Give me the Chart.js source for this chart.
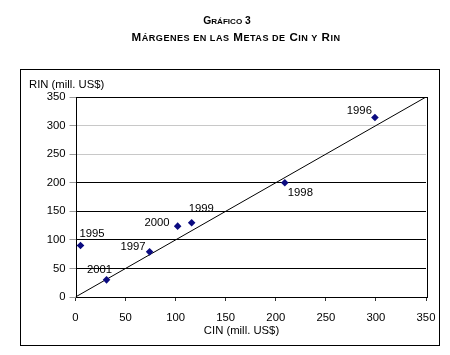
<!DOCTYPE html>
<html>
<head>
<meta charset="utf-8">
<script src="https://cdn.jsdelivr.net/npm/chart.js@4"></script>
<style>
  html, body { margin: 0; padding: 0; background: #fff; }
  #wrap { position: relative; width: 450px; height: 355px; }
  canvas { position: absolute; left: 0; top: 0; }
  .ttl { position: absolute; width: 450px; text-align: center;
         font-family: "Liberation Sans", Arial, sans-serif; font-weight: bold;
         color: #000; line-height: 14px; white-space: nowrap; }
  .l1 { font-size: 10.3px; left: 2px; top: 14px; }
  .l1 .s { font-size: 8.1px; text-transform: uppercase; }
  .l2 { font-size: 11.6px; left: 11px; top: 30px; letter-spacing: 0.5px; }
  .l2 .s { font-size: 9.1px; text-transform: uppercase; }
</style>
</head>
<body>
<div id="wrap">
  <canvas id="c" width="450" height="355"></canvas>
  <div class="ttl l1">G<span class="s">ráfico</span> 3</div>
  <div class="ttl l2">M<span class="s">árgenes en las</span> M<span class="s">etas de</span> C<span class="s">in y</span> R<span class="s">in</span></div>
</div>
<script>
// ---- data ----
const years = ["1995", "1996", "1997", "1998", "1999", "2000", "2001"];
const cinValues = [5, 299, 74, 209, 116, 102, 31];
const rinValues = [90, 314, 79, 200, 130, 124, 30];
const refLineX = [0, 350];
const refLineY = [0, 350];
const tickValues = [0, 50, 100, 150, 200, 250, 300, 350];
const xTitle = "CIN (mill. US$)";
const yTitle = "RIN (mill. US$)";

// label placement (pixel offsets from point, alignment)
const labelOffsets = [
  { dx: -1, dy: -12, align: "left" },
  { dx: -3, dy: -7, align: "right" },
  { dx: -4, dy: -5, align: "right" },
  { dx: 3, dy: 10, align: "left" },
  { dx: -3, dy: -14, align: "left" },
  { dx: -8, dy: -3, align: "right" },
  { dx: -7, dy: -10, align: "center" }
];

const FONT = "'Liberation Sans', Arial, sans-serif";
const FS = 11.3;

const scatterData = cinValues.map((x, i) => ({ x: x, y: rinValues[i] }));
const lineData = refLineX.map((x, i) => ({ x: x, y: refLineY[i] }));

const decor = {
  id: "decor",
  beforeDatasetsDraw(chart) {
    const { ctx, chartArea: a } = chart;
    ctx.save();
    ctx.strokeStyle = "#000";
    ctx.lineWidth = 1;
    ctx.strokeRect(Math.round(a.left) + 0.5, Math.round(a.top) + 0.5,
      Math.round(a.right - a.left), Math.round(a.bottom - a.top));
    ctx.restore();
  },
  afterDraw(chart) {
    const { ctx, chartArea: a } = chart;
    ctx.save();
    // outer frame
    ctx.strokeStyle = "#000";
    ctx.lineWidth = 1;
    ctx.strokeRect(20.5, 69.5, 419, 276);
    // axis titles
    ctx.fillStyle = "#000";
    ctx.font = FS + "px " + FONT;
    ctx.textBaseline = "middle";
    ctx.textAlign = "left";
    ctx.fillText(yTitle, 29, 85);
    ctx.textAlign = "center";
    ctx.fillText(xTitle, 241.5, 331);
    // point labels
    const meta = chart.getDatasetMeta(0);
    meta.data.forEach((pt, i) => {
      const o = labelOffsets[i];
      ctx.textAlign = o.align;
      ctx.fillText(years[i], pt.x + o.dx, pt.y + o.dy);
    });
    ctx.restore();
  }
};

new Chart(document.getElementById("c"), {
  data: {
    datasets: [
      {
        type: "scatter",
        label: "Metas",
        data: scatterData,
        pointStyle: "rectRot",
        pointRadius: 3.8,
        pointHoverRadius: 3.8,
        backgroundColor: "#0b0b80",
        borderColor: "#0b0b80",
        borderWidth: 0,
        order: 0
      },
      {
        type: "line",
        label: "45°",
        data: lineData,
        borderColor: "#000",
        borderWidth: 1,
        pointRadius: 0,
        fill: false,
        order: 1
      }
    ]
  },
  options: {
    responsive: false,
    animation: false,
    events: [],
    layout: { padding: { top: 97, right: 24, left: 0, bottom: 0 } },
    plugins: { legend: { display: false }, tooltip: { enabled: false }, title: { display: false } },
    scales: {
      x: {
        type: "linear",
        min: 0, max: 350,
        afterBuildTicks: s => { s.ticks = tickValues.map(v => ({ value: v })); },
        afterFit: s => { s.height = 58; },
        border: { display: false },
        grid: { drawOnChartArea: false, drawTicks: true, tickLength: 4, tickColor: "#333" },
        ticks: { color: "#000", font: { family: FONT, size: FS }, padding: 10, maxRotation: 0 }
      },
      y: {
        type: "linear",
        min: 0, max: 350,
        afterBuildTicks: s => { s.ticks = tickValues.map(v => ({ value: v })); },
        afterFit: s => { s.width = 75.5; },
        border: { display: false },
        grid: {
          drawTicks: true, tickLength: 6, tickColor: "#999",
          color: c => (c.tick && (c.tick.value === 250 || c.tick.value === 300)) ? "#c8c8c8" : "#000",
          lineWidth: 1
        },
        ticks: { color: "#000", font: { family: FONT, size: FS }, padding: 4 }
      }
    }
  },
  plugins: [decor]
});
</script>
</body>
</html>
